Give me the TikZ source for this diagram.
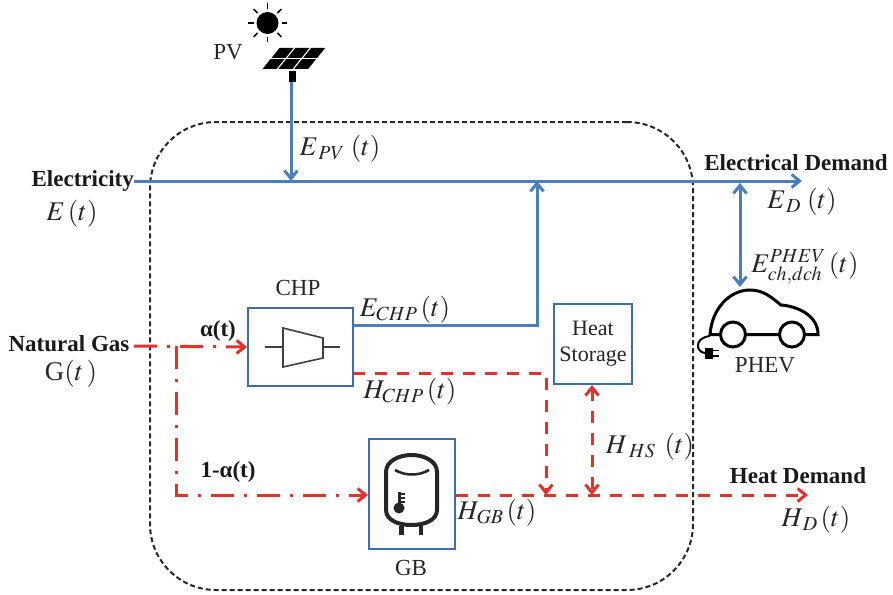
\documentclass[tikz,border=0pt]{standalone}
\usepackage{mathptmx}
\usepackage[no-math]{fontspec}
\setmainfont{Liberation Serif}
\usetikzlibrary{arrows.meta}
\definecolor{lineblue}{HTML}{4A7EBF}
\definecolor{boxblue}{HTML}{3F6CAB}
\definecolor{linered}{HTML}{E8302A}
\begin{document}
\begin{tikzpicture}[
        x=1pt, y=-1pt,
        >={Straight Barb[length=8pt,width=13pt]},
        unit/.style={rectangle, draw=boxblue, line width=2.2pt, fill=white, inner sep=0pt, align=center, text=black!85},
        frame/.style={rectangle, draw=black!85, line width=2pt, dash pattern=on 5pt off 3pt, rounded corners=66pt, minimum width=543pt, minimum height=468pt},
        title/.style={font=\fontsize{23}{25}\selectfont\bfseries, text=black!90, inner sep=0pt},
        plain/.style={font=\fontsize{23}{26}\selectfont, text=black!85, inner sep=0pt, align=center},
        quantity/.style={font=\fontsize{27}{29}\selectfont, text=black!85, inner sep=0pt},
        bluearrow/.style={lineblue, line width=3pt, ->},
        heatarrow/.style={linered, line width=3pt, dash pattern=on 12pt off 10pt, ->},
        gasarrow/.style={linered, line width=3pt, dash pattern=on 23pt off 10pt on 3pt off 10pt, ->},
        icon/.style={black, line width=3pt}
    ]
    \useasboundingbox (0,0) rectangle (893,594);

    % Dashed system boundary
    \node[frame] (system) at (421.5, 356) {};

    % Sources
    \node[title, anchor=east] (electricity) at (134, 181) {Electricity};
    \node[quantity] (grid_label) at (72, 214) {$E\,(t)$};
    \node[title] (gas) at (69, 344) {Natural Gas};
    \node[plain, font=\fontsize{27}{29}\selectfont] (gas_label) at (71, 374) {G$(t\,)$};
    \node[plain] (pv_name) at (228, 52) {PV};

    % Units
    \node[unit, minimum width=105pt, minimum height=78pt] (chp) at (300.5, 347) {};
    \node[unit, minimum width=78pt, minimum height=80pt, font=\fontsize{22}{24}\selectfont] (storage) at (593, 344) {Heat\\[2pt]Storage};
    \node[unit, minimum width=86pt, minimum height=110pt] (gb) at (412, 494) {};
    \node[plain] (chp_name) at (298, 288) {CHP};
    \node[plain] (gb_name) at (411, 568) {GB};
    \node[plain] (phev_name) at (765, 365) {PHEV};

    % Demands
    \node[title] (elec_demand) at (796, 163) {Electrical Demand};
    \node[title] (heat_demand) at (798, 476) {Heat Demand};
    \node[title] (alpha) at (218, 331) {α(t)};
    \node[title] (one_minus) at (228, 472) {1-α(t)};

    % Quantities
    \node[quantity] (e_pv) at (340, 149) {$E_{\,PV}\;(t)$};
    \node[quantity] (e_d) at (802, 202) {$E_{\,D}\;(t)$};
    \node[quantity] (e_phev) at (805, 267) {$E^{PHEV}_{ch,dch}\,(t)$};
    \node[quantity] (e_chp) at (405, 310) {$E_{CHP}\,(t)$};
    \node[quantity] (h_chp) at (410, 392) {$H_{CHP}\,(t)$};
    \node[quantity] (h_hs) at (650, 447) {$H_{\;HS}\;\,(t)$};
    \node[quantity] (h_gb) at (497, 513) {$H_{GB}\,(t)$};
    \node[quantity] (h_d) at (816, 520) {$H_{\,D}\,(t)$};

    % Junctions and free ends
    \coordinate (pv_post) at (291, 80);
    \coordinate (pv_bus) at (291, 181);
    \coordinate (elec_end) at (802, 181);
    \coordinate (chp_elec) at (353, 325);
    \coordinate (chp_bus) at (537, 181);
    \coordinate (chp_heat) at (353, 373);
    \coordinate (heat_bus) at (546, 495);
    \coordinate (heat_end) at (808, 495);
    \coordinate (hs_bus) at (592, 495);
    \coordinate (ev_bus) at (740, 183);
    \coordinate (ev_top) at (740, 287);
    \coordinate (gas_out) at (134, 346);
    \coordinate (gas_branch) at (176, 346);
    \coordinate (gas_chp) at (247, 347);
    \coordinate (gas_gb) at (368, 495);
    \coordinate (sun) at (267.5, 23);

    % Electricity
    \draw[bluearrow] (electricity.east) -- (elec_end);
    \draw[bluearrow] (pv_post) -- (pv_bus);
    \draw[bluearrow] (chp_elec) -| (chp_bus);
    \draw[bluearrow, <->] (ev_bus) -- (ev_top);

    % Heat
    \draw[heatarrow] (chp_heat) -| (heat_bus);
    \draw[heatarrow] (gb.east |- heat_end) -- (heat_end);
    \draw[heatarrow, <->] (storage.south -| hs_bus) -- (hs_bus);

    % Natural gas
    \draw[gasarrow] (gas_out) -- (gas_chp);
    \draw[gasarrow] (gas_branch) |- (gas_gb);

    % Sun
    \fill[black] (sun) circle (11);
    \foreach \a in {0, 45, ..., 315} {
        \draw[black, line width=1.7pt] (sun) ++(\a:14) -- ++(\a:5.5);
    }

    % Solar panel
    \foreach \i in {0, 1, 2} {
        \foreach \j in {0, 1} {
            \fill[black] ({279.5 + \i*15.8 - \j*9}, {48 + \j*11})
                -- ++(14, 0) -- ++(-7.8, 9.8) -- ++(-14, 0) -- cycle;
        }
    }
    \fill[black] (289, 71) rectangle (296, 82);

    % Compressor and turbine
    \draw[black!75, line width=1.6pt, fill=white] (283, 328) -- (323, 338) -- (323, 358) -- (283, 367) -- cycle;
    \draw[black!75, line width=1.6pt] (265, 347) -- (283, 347);
    \draw[black!75, line width=1.6pt] (323, 347) -- (340, 347);

    % Boiler
    \draw[black!85, line width=4pt, fill=white]
        (386, 510) -- (386, 472) .. controls (386, 461) and (399, 455) .. (411.5, 455)
        .. controls (424, 455) and (437, 461) .. (437, 472)
        -- (437, 510) .. controls (437, 520) and (425, 525) .. (411.5, 525)
        .. controls (398, 525) and (386, 520) .. (386, 510) -- cycle;
    \draw[black!85, line width=2.5pt] (395, 470) .. controls (405, 476) and (419, 476) .. (429, 470);
    \draw[black!85, line width=4.5pt] (401.5, 526) -- (401.5, 535);
    \draw[black!85, line width=4.5pt] (421, 526) -- (421, 535);
    \fill[black!85] (399, 508) circle (5.5);
    \draw[black!85, line width=3pt] (399, 492) -- (399, 506);
    \foreach \y in {494, 498, 502} {
        \draw[black!85, line width=1.3pt] (400, \y) -- (405, \y);
    }

    % Car
    \draw[icon, fill=white] (710, 334.5) .. controls (712, 308) and (730, 290) .. (750, 290)
        .. controls (764, 290) and (772, 298) .. (781, 305)
        .. controls (795, 306) and (818, 314) .. (818, 334.5) -- cycle;
    \draw[icon, fill=white] (733, 334.5) circle (12.5);
    \draw[icon, fill=white] (792, 334.5) circle (12.5);
    \draw[black, line width=2pt] (710, 336) .. controls (702, 337) and (697, 341) .. (698, 347)
        .. controls (699, 351) and (702, 353) .. (706, 353);
    \fill[black] (705, 348) rectangle (713, 359);
    \draw[black, line width=1.5pt] (713, 350.5) -- (719, 350.5);
    \draw[black, line width=1.5pt] (713, 356) -- (719, 356);

\end{tikzpicture}
\end{document}
